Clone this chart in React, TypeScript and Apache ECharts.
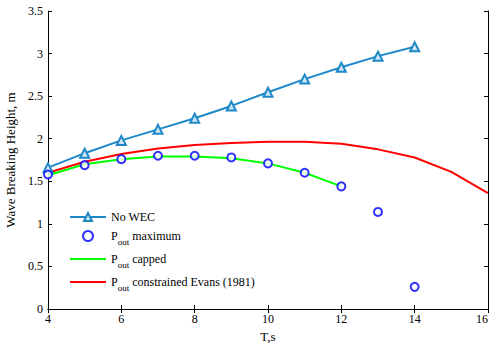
import React, { useEffect, useRef } from "react";
import * as echarts from "echarts";

const periods = [4, 5, 6, 7, 8, 9, 10, 11, 12, 13, 14];
const noWec = [1.66, 1.83, 1.98, 2.11, 2.24, 2.385, 2.545, 2.7, 2.84, 2.97, 3.08];
const poutMax = [1.58, 1.69, 1.76, 1.8, 1.8, 1.78, 1.71, 1.6, 1.44, 1.14, 0.26];
const cappedPeriods = [4, 5, 6, 7, 8, 9, 10, 11, 12];
const poutCapped = [1.57, 1.7, 1.76, 1.79, 1.79, 1.77, 1.71, 1.6, 1.44];
const evansPeriods = [4, 5, 6, 7, 8, 9, 10, 11, 12, 13, 14, 15, 16];
const poutEvans = [1.6, 1.73, 1.82, 1.885, 1.925, 1.95, 1.965, 1.965, 1.94, 1.875, 1.78, 1.61, 1.36];

const FONT = "'Liberation Serif', 'Times New Roman', 'DejaVu Serif', serif";

export default function App() {
  const ref = useRef<HTMLDivElement>(null);
  useEffect(() => {
    if (!ref.current) return;
    const chart = echarts.init(ref.current, undefined, { renderer: "svg" });
    const pair = (xs: number[], ys: number[]) => xs.map((x, i) => [x, ys[i]]);
    const tickStyle = { show: true, inside: true, length: 4, lineStyle: { color: "#000", width: 1 } };
    chart.setOption({
      animation: false,
      backgroundColor: "#fff",
      textStyle: { fontFamily: FONT },
      grid: { left: 48, right: 4, top: 11, bottom: 34, containLabel: false, outerBoundsMode: "none" },
      legend: {
        orient: "vertical",
        left: 64,
        top: 206,
        itemWidth: 36,
        itemHeight: 10,
        itemGap: 7,
        textStyle: {
          fontFamily: FONT,
          fontSize: 12,
          color: "#000",
          rich: {
            a: { fontFamily: FONT, fontSize: 12, color: "#000" },
            sub: { fontFamily: FONT, fontSize: 9, color: "#000", padding: [11, 0, 0, 0] },
          },
        },
        formatter: (name: string) => {
          if (name.startsWith("Pout")) {
            return "{a|P}{sub|out}{a| " + name.slice(5) + "}";
          }
          return name;
        },
        data: [
          { name: "No WEC" },
          { name: "Pout maximum", itemStyle: { borderWidth: 2 } },
          { name: "Pout capped", itemStyle: { opacity: 0 } },
          { name: "Pout constrained Evans (1981)", itemStyle: { opacity: 0 } },
        ],
      },
      xAxis: [
        {
          type: "value",
          min: 4,
          max: 16,
          interval: 2,
          name: "T,s",
          nameLocation: "middle",
          nameGap: 18,
          nameTextStyle: { fontFamily: FONT, fontSize: 13, color: "#000" },
          axisLine: { show: true, lineStyle: { color: "#000", width: 1 } },
          axisTick: tickStyle,
          axisLabel: { fontFamily: FONT, fontSize: 12, color: "#000", margin: 4, alignMaxLabel: "right" },
          splitLine: { show: false },
        },
        {
          type: "value",
          position: "top",
          min: 4,
          max: 16,
          interval: 2,
          axisLine: { show: true, lineStyle: { color: "#000", width: 1 } },
          axisTick: tickStyle,
          axisLabel: { show: false },
          splitLine: { show: false },
        },
      ],
      yAxis: [
        {
          type: "value",
          min: 0,
          max: 3.5,
          interval: 0.5,
          name: "Wave Breaking Height, m",
          nameLocation: "middle",
          nameGap: 27,
          nameTextStyle: { fontFamily: FONT, fontSize: 13, color: "#000" },
          axisLine: { show: true, lineStyle: { color: "#000", width: 1 } },
          axisTick: tickStyle,
          axisLabel: { fontFamily: FONT, fontSize: 12, color: "#000", margin: 5 },
          splitLine: { show: false },
        },
        {
          type: "value",
          position: "right",
          min: 0,
          max: 3.5,
          interval: 0.5,
          axisLine: { show: true, lineStyle: { color: "#000", width: 1 } },
          axisTick: tickStyle,
          axisLabel: { show: false },
          splitLine: { show: false },
        },
      ],
      series: [
        {
          name: "Pout constrained Evans (1981)",
          type: "line",
          data: pair(evansPeriods, poutEvans),
          symbol: "none",
          lineStyle: { color: "#ff0000", width: 2 },
          itemStyle: { color: "#ff0000" },
          z: 2,
        },
        {
          name: "Pout capped",
          type: "line",
          data: pair(cappedPeriods, poutCapped),
          symbol: "none",
          lineStyle: { color: "#00ff00", width: 2 },
          itemStyle: { color: "#00ff00" },
          z: 3,
        },
        {
          name: "No WEC",
          type: "line",
          data: pair(periods, noWec),
          symbol: "triangle",
          symbolSize: 9,
          showAllSymbol: true,
          lineStyle: { color: "#1f88c8", width: 2 },
          itemStyle: { color: "#cfe6f4", borderColor: "#1f88c8", borderWidth: 2 },
          z: 4,
        },
        {
          name: "Pout maximum",
          type: "scatter",
          data: pair(periods, poutMax),
          symbol: "circle",
          symbolSize: 8,
          itemStyle: { color: "#fff", borderColor: "#0000ff", borderWidth: 2 },
          z: 5,
        },
      ],
    });
    return () => chart.dispose();
  }, []);
  return <div ref={ref} style={{ width: 492, height: 343, position: "absolute", left: 0, top: 0 }} />;
}
